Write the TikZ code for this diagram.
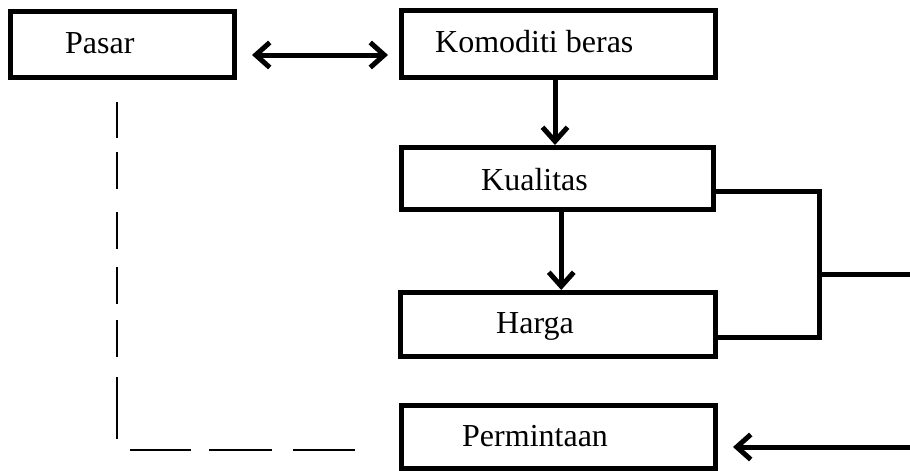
\documentclass[tikz,border=0pt]{standalone}
\usepackage{fontspec}
\setmainfont{Liberation Serif}
\usetikzlibrary{arrows.meta}
\tikzset{
  box/.style={draw=black, line width=5pt, rectangle, inner sep=0pt, fill=white},
  lbl/.style={anchor=base west, inner sep=0pt, font=\fontsize{32}{37}\selectfont},
  conn/.style={draw=black, line width=5pt},
  barb/.style={-{Straight Barb[length=14pt,width=25pt]}},
  dashln/.style={draw=black, line width=2pt}
}
\begin{document}
\begin{tikzpicture}[x=1pt,y=-1pt]
\useasboundingbox (0,0) rectangle (910,471);
% boxes (centerline sizes)
\node[box, minimum width=224pt, minimum height=66pt] (pasar) at (122.5,44.5) {};
\node[box, minimum width=314pt, minimum height=67pt] (komoditi) at (558.5,44) {};
\node[box, minimum width=312.5pt, minimum height=62pt] (kualitas) at (557.25,178.5) {};
\node[box, minimum width=315pt, minimum height=64pt] (harga) at (558,324.5) {};
\node[box, minimum width=314pt, minimum height=63pt] (permintaan) at (558.5,437) {};
% labels
\node[lbl] (tpasar) at (65,53) {Pasar};
\node[lbl] (tkomoditi) at (435,52) {Komoditi beras};
\node[lbl] (tkualitas) at (481,190) {Kualitas};
\node[lbl] (tharga) at (496,333) {Harga};
\node[lbl] (tpermintaan) at (462,446) {Permintaan};
% double arrow
\draw[conn, {Straight Barb[length=14pt,width=25pt]}-{Straight Barb[length=14pt,width=25pt]}, shorten <=15pt, shorten >=11pt]
  (pasar.east |- 0,55) -- (komoditi.west |- 0,55);
% vertical arrows
\draw[conn, barb] ([xshift=-3.5pt]komoditi.south) -- ([xshift=-3.5pt]komoditi.south |- kualitas.north);
\draw[conn, barb] ([xshift=4pt]kualitas.south) -- ([xshift=4pt]kualitas.south |- harga.north);
% bracket
\coordinate (bk1) at (819,191);
\coordinate (bk2) at (819,337);
\coordinate (bkm) at (819,274);
\coordinate (rightm) at (910,274);
\coordinate (rightp) at (910,447);
\draw[conn, line join=miter] (kualitas.east |- bk1) -- (bk1) -- (bk2) -- (harga.east |- bk2);
\draw[conn] (bkm) -- (rightm);
% arrow into Permintaan
\draw[conn, barb, shorten >=15pt] (rightp) -- (permintaan.east |- rightp);
% dashed line
\coordinate (dv1) at (117,102);
\coordinate (dv2) at (117,439);
\coordinate (dh1) at (130,450);
\coordinate (dh2) at (355,450);
\draw[dashln] (dv1) -- (117,138) (117,152) -- (117,189) (117,212) -- (117,249)
  (117,267) -- (117,304) (117,320) -- (117,357) (117,377) -- (dv2);
\draw[dashln] (dh1) -- (191,450) (209,450) -- (272,450) (293,450) -- (dh2);
\end{tikzpicture}
\end{document}
